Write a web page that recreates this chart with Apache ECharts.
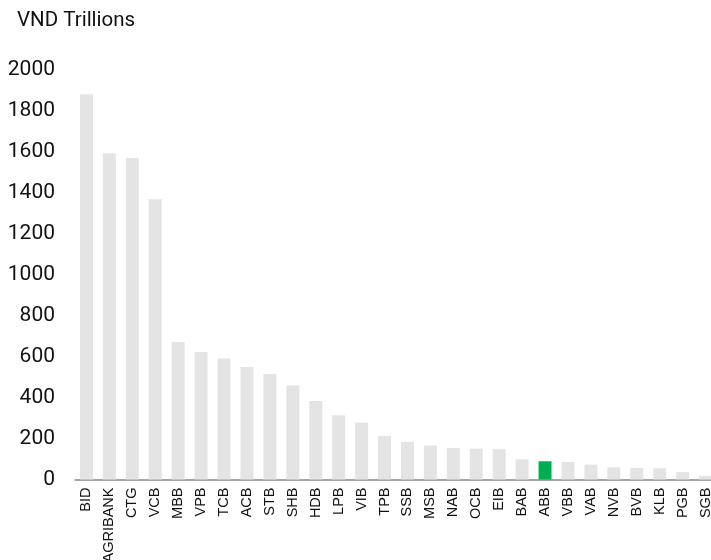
<!DOCTYPE html>
<html>
<head>
<meta charset="utf-8">
<script src="https://cdn.jsdelivr.net/npm/echarts@6/dist/echarts.min.js"></script>
<style>html,body{margin:0;padding:0;background:#fff;}#c{width:711px;height:560px;}</style>
</head>
<body>
<div id="c"></div>
<script>
const categories = ['BID','AGRIBANK','CTG','VCB','MBB','VPB','TCB','ACB','STB','SHB','HDB','LPB','VIB','TPB','SSB','MSB','NAB','OCB','EIB','BAB','ABB','VBB','VAB','NVB','BVB','KLB','PGB','SGB'];
const values = [1882,1593,1570,1369,671,623,591,549,515,459,384,314,278,212,184,166,154,151,148,99,89,86,73,60,57,55,36,18];
const highlight = 'ABB';
const yTicks = [0,200,400,600,800,1000,1200,1400,1600,1800,2000];

const chart = echarts.init(document.getElementById('c'), null, {renderer:'canvas'});
chart.setOption({
  animation: false,
  backgroundColor: '#ffffff',
  title: {
    text: 'VND Trillions', left: 17, top: 10, padding: 0,
    textStyle: {fontFamily: 'Roboto', fontSize: 20.5, fontWeight: 'normal', color: '#111'}
  },
  grid: {left: 75, right: -6, top: 70, bottom: 80.5, outerBoundsMode: 'none', containLabel: false},
  xAxis: {
    type: 'category', data: categories,
    axisLine: {lineStyle: {color: '#888', width: 1.5}},
    axisTick: {show: false},
    axisLabel: {interval: 0, rotate: 90, margin: 8, fontFamily: 'Liberation Sans', fontSize: 14.5, color: '#111'}
  },
  yAxis: {
    type: 'value', min: yTicks[0], max: yTicks[yTicks.length-1], interval: 200,
    axisLine: {show: false}, axisTick: {show: false}, splitLine: {show: false},
    axisLabel: {margin: 20, fontFamily: 'Roboto', fontSize: 21, color: '#111', formatter: v => String(v)}
  },
  series: [{
    type: 'bar', barWidth: 13,
    data: values.map((v, i) => ({value: v, itemStyle: {color: categories[i] === highlight ? '#00B050' : '#E4E4E4'}}))
  }]
});
</script>
</body>
</html>
